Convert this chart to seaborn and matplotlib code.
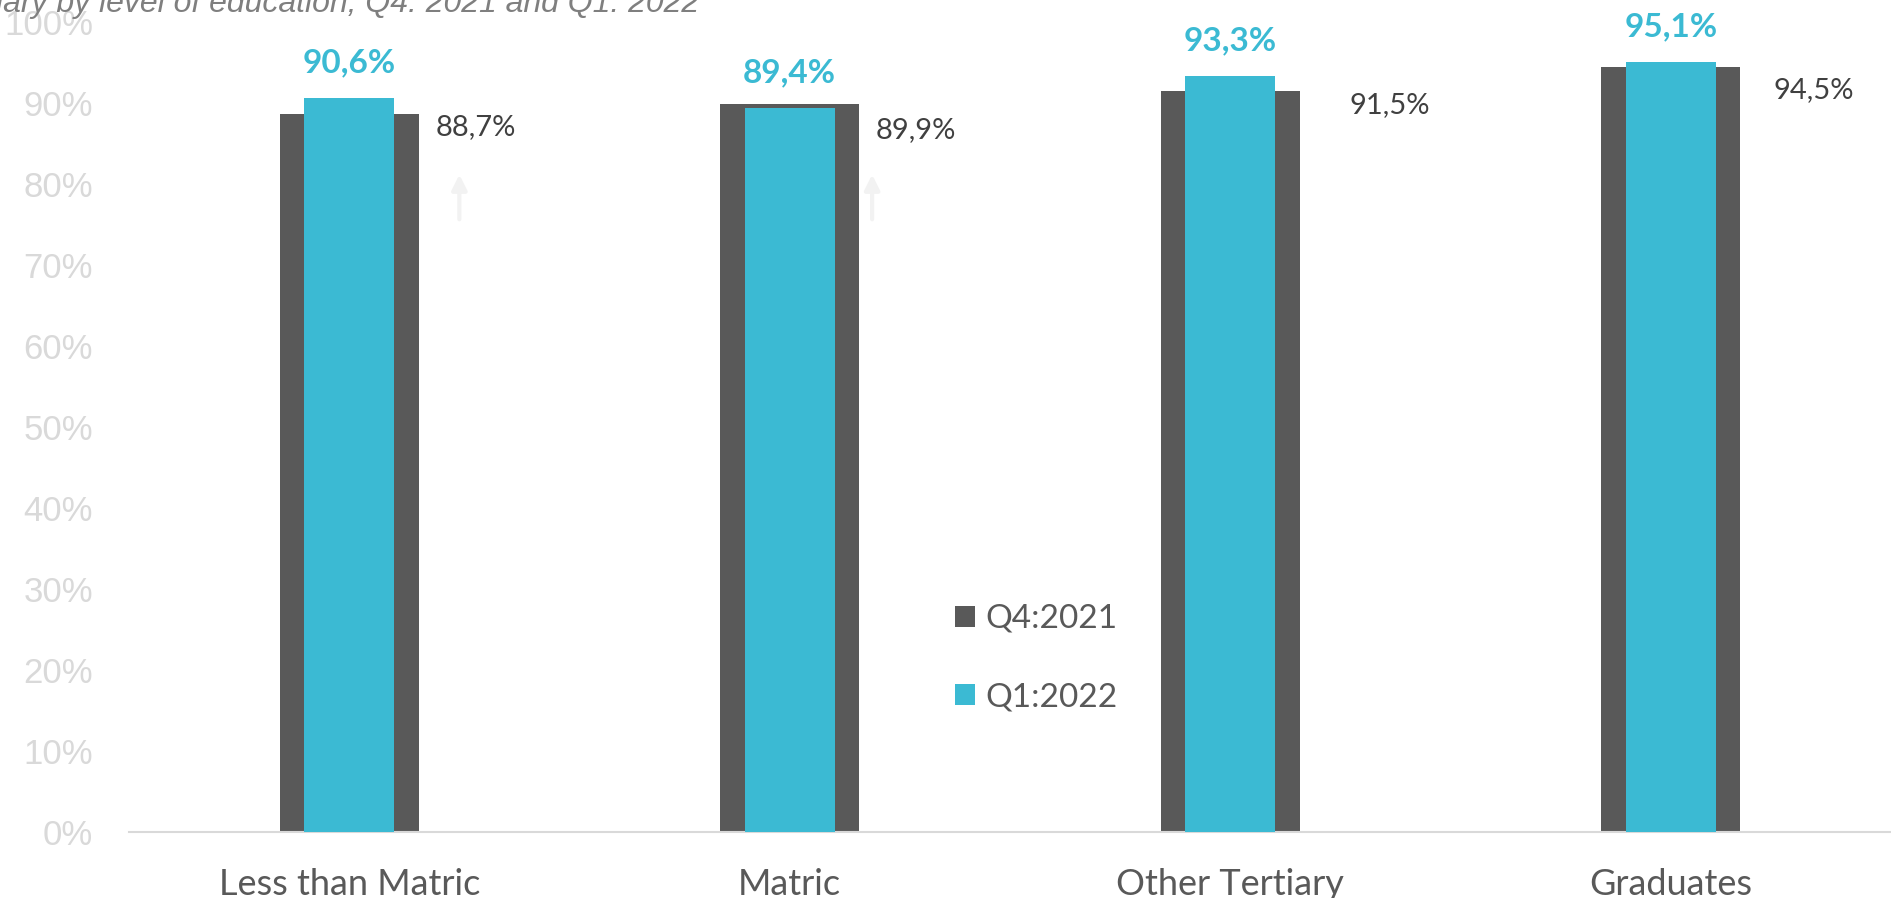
import matplotlib
matplotlib.use('Agg')
import matplotlib.pyplot as plt
import seaborn as sns
import pandas as pd

categories = ['Less than Matric', 'Matric', 'Other Tertiary', 'Graduates']
q4_2021 = [88.7, 89.9, 91.5, 94.5]
q1_2022 = [90.6, 89.4, 93.3, 95.1]
y_ticks = [0, 10, 20, 30, 40, 50, 60, 70, 80, 90, 100]
title_text = 'iary by level of education, Q4: 2021 and Q1: 2022'

grey = '#595959'
cyan = '#3bbad3'
light = '#d9d9d9'

# pixel offsets of the Q4 labels (the source chart had them hand-placed)
q4_label_dx = [86, 86, 119, 103]
q4_label_dy = [-14, -26, -14, -23]

sns.set_style('white')
calibri_like = ['Lato', 'DejaVu Sans']
arial_like = ['Liberation Sans', 'DejaVu Sans']

df = pd.DataFrame({'cat': categories, 'q4': q4_2021, 'q1': q1_2022})

fig = plt.figure(figsize=(18.91, 8.98), dpi=100)
ax = fig.add_axes([129 / 1891, 66 / 898, 1 - 129 / 1891, 810 / 898])

sns.barplot(ax=ax, data=df, x='cat', y='q4', color=grey, width=0.316,
            saturation=1, label='Q4:2021', zorder=2, linewidth=0)
sns.barplot(ax=ax, data=df, x='cat', y='q1', color=cyan, width=0.204,
            saturation=1, label='Q1:2022', zorder=3, linewidth=0)

ax.set_ylim(0, 100)
ax.set_xlim(-0.5, 3.5)
ax.set_yticks(y_ticks)
ax.set_yticklabels([f'{t}%' for t in y_ticks])
ax.set_xticks(range(len(categories)))
ax.set_xticklabels(categories)
ax.tick_params(axis='y', length=0, pad=26, labelsize=25, labelcolor=light)
ax.tick_params(axis='x', length=0, pad=26, labelsize=26, labelcolor=grey)
for lab in ax.get_yticklabels():
    lab.set_family(arial_like)
for lab in ax.get_xticklabels():
    lab.set_family(calibri_like)
ax.set_xlabel('')
ax.set_ylabel('')

for s in ['top', 'right', 'left']:
    ax.spines[s].set_visible(False)
ax.spines['bottom'].set_color(light)
ax.spines['bottom'].set_linewidth(1.5)

for i, v in enumerate(q1_2022):
    ax.annotate(f'{v:.1f}'.replace('.', ',') + '%', xy=(i, v),
                xytext=(0, 35), textcoords='offset pixels',
                ha='center', va='center', fontsize=24, fontweight='bold',
                color=cyan, family=calibri_like)

for i, v in enumerate(q4_2021):
    ax.annotate(f'{v:.1f}'.replace('.', ',') + '%', xy=(i, v),
                xytext=(q4_label_dx[i], q4_label_dy[i]), textcoords='offset pixels',
                ha='left', va='center', fontsize=21, color='#404040',
                family=calibri_like)

# faint arrows left over in the source chart
for ax_x in [0.25, 1.187]:
    ax.annotate('', xy=(ax_x, 81.5), xytext=(ax_x, 75.3),
                arrowprops=dict(arrowstyle='-|>,head_width=0.45,head_length=0.9',
                                color='#f2f2f2', lw=3), zorder=1)

leg = ax.legend(loc='upper left', bbox_to_anchor=(955 / 1891, 1 - 604 / 898),
                bbox_transform=fig.transFigure, frameon=False, borderpad=0,
                borderaxespad=0, handlelength=0.6, handleheight=0.6,
                handletextpad=0.3, labelspacing=1.45,
                prop={'family': calibri_like, 'size': 24})
for t in leg.get_texts():
    t.set_color(grey)

fig.text(-0.002, 1 - 12 / 898, title_text, family=arial_like, style='italic',
         fontsize=23, color='#7f7f7f', ha='left', va='baseline')

fig.savefig('out.png', dpi=100)
